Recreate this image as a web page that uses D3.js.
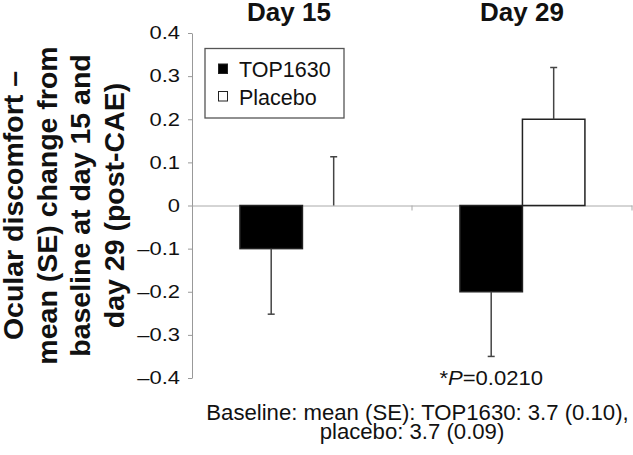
<!DOCTYPE html>
<html>
<head>
<meta charset="utf-8">
<script src="https://cdn.jsdelivr.net/npm/d3@7"></script>
<style>
  body { margin: 0; background: #fff; }
  svg { display: block; font-family: "Liberation Sans", Arial, sans-serif; }
</style>
</head>
<body>
<script>
// data
const days = ["Day 15", "Day 29"];
const series = ["TOP1630", "Placebo"];
const top1630Mean = [-0.10, -0.20];
const top1630SE = [0.152, 0.15];
const placeboMean = [0.0, 0.20];
const placeboSE = [0.113, 0.12];
const yTicks = [0.4, 0.3, 0.2, 0.1, 0, -0.1, -0.2, -0.3, -0.4];
const yTitle = ["Ocular discomfort \u2013", "mean (SE) change from", "baseline at day 15 and", "day 29 (post-CAE)"];
const pNote = { day: "Day 29", series: "TOP1630", text: "0.0210" };
const baselineNote = ["Baseline: mean (SE): TOP1630: 3.7 (0.10),", "placebo: 3.7 (0.09)"];

let margin, width, height, svg, x0, x1, y;

setupCanvasSize();
appendSvg("body");
setupScales();
appendAxes();
appendBars();
appendTitles();
appendLegend();

function setupCanvasSize() {
  margin = {top: 33, left: 192, bottom: 77, right: 1};
  width = 633 - margin.left - margin.right;
  height = 455 - margin.top - margin.bottom;
}

function appendSvg(el) {
  svg = d3.select(el).append("svg")
    .attr("width", 633)
    .attr("height", 455)
    .append("g")
    .attr("transform", `translate(${margin.left}, ${margin.top})`);
}

function setupScales() {
  x0 = d3.scaleBand().domain(days).range([0, width]);
  const bw = x0.bandwidth();
  x1 = d3.scaleBand().domain(series).range([bw * 0.218, bw * 0.786]);
  y = d3.scaleLinear().domain([-0.4, 0.4]).range([height, 0]);
}

function fmt(v) {
  if (v === 0) return "0";
  return (v < 0 ? "\u2013" : "") + Math.abs(v).toFixed(1);
}

function appendAxes() {
  const ya = svg.append("g")
    .call(d3.axisLeft(y).tickValues(yTicks).tickFormat(fmt).tickSizeInner(4).tickSizeOuter(0).tickPadding(8));
  ya.select(".domain").attr("stroke", "#999");
  ya.selectAll(".tick line").attr("stroke", "#999");
  ya.selectAll(".tick text")
    .attr("font-size", 18)
    .attr("fill", "#111")
    .attr("font-family", null)
    .attr("x", -12 / 1.22)
    .attr("transform", "scale(1.22,1)");

  // zero line with category boundary ticks
  const xa = svg.append("g")
    .attr("transform", `translate(0, ${y(0)})`)
    .call(d3.axisBottom(x0).tickValues([]).tickSizeOuter(0));
  xa.select(".domain").attr("stroke", "#aaa");
  xa.selectAll(".bound")
    .data(days)
    .enter()
    .append("line")
    .attr("class", "bound")
    .attr("x1", d => x0(d) + x0.bandwidth())
    .attr("x2", d => x0(d) + x0.bandwidth())
    .attr("y1", 0)
    .attr("y2", 5)
    .attr("stroke", "#aaa");
}

function appendBars() {
  const rows = [];
  days.forEach((d, i) => {
    rows.push({day: d, s: "TOP1630", v: top1630Mean[i], se: top1630SE[i]});
    rows.push({day: d, s: "Placebo", v: placeboMean[i], se: placeboSE[i]});
  });

  svg.selectAll("rect.bar")
    .data(rows)
    .enter()
    .append("rect")
    .attr("class", "bar")
    .attr("x", d => x0(d.day) + x1(d.s))
    .attr("y", d => y(Math.max(0, d.v)))
    .attr("width", x1.bandwidth())
    .attr("height", d => Math.abs(y(d.v) - y(0)))
    .style("fill", d => d.s === "TOP1630" ? "#000" : "#fff")
    .style("stroke", "#222")
    .style("stroke-width", 1.5);

  const cx = d => x0(d.day) + x1(d.s) + x1.bandwidth() / 2;
  const end = d => y(d.v >= 0 ? d.v + d.se : d.v - d.se);

  const eb = svg.selectAll("g.err")
    .data(rows)
    .enter()
    .append("g")
    .attr("class", "err")
    .attr("stroke", "#444")
    .attr("stroke-width", 1.5);
  eb.append("line")
    .attr("x1", cx).attr("x2", cx)
    .attr("y1", d => y(d.v)).attr("y2", end);
  eb.append("line")
    .attr("x1", d => cx(d) - 3.5).attr("x2", d => cx(d) + 3.5)
    .attr("y1", end).attr("y2", end);

  // p-value under the day 29 TOP1630 bar
  const pt = svg.append("g")
    .attr("transform", `translate(${x0(pNote.day) + x1(pNote.series) + x1.bandwidth() / 2}, ${385 - margin.top}) scale(1.05,1)`)
    .append("text")
    .attr("text-anchor", "middle")
    .attr("font-size", 21)
    .attr("fill", "#111");
  pt.append("tspan").text("*");
  pt.append("tspan").attr("font-style", "italic").text("P");
  pt.append("tspan").text("=" + pNote.text);
}

function appendTitles() {
  const nudge = [-13, 0];
  svg.selectAll("text.day")
    .data(days)
    .enter()
    .append("text")
    .attr("class", "day")
    .attr("x", (d, i) => x0(d) + x0.bandwidth() / 2 + nudge[i])
    .attr("y", 21 - margin.top)
    .attr("text-anchor", "middle")
    .attr("font-size", 26)
    .attr("font-weight", "bold")
    .attr("fill", "#111")
    .text(d => d);

  const yt = svg.append("g")
    .attr("transform", `translate(${-margin.left}, ${height / 2}) rotate(-90)`);
  yt.selectAll("text")
    .data(yTitle)
    .enter()
    .append("text")
    .attr("x", 0)
    .attr("y", (d, i) => 23 + i * 33.5)
    .attr("text-anchor", "middle")
    .attr("font-size", 28.5)
    .attr("font-weight", "bold")
    .attr("fill", "#111")
    .text(d => d);

  svg.selectAll("g.note")
    .data(baselineNote)
    .enter()
    .append("g")
    .attr("class", "note")
    .attr("transform", (d, i) => `translate(${width / 2 + (i === 0 ? 5.5 : 0)}, ${420 - margin.top + i * 18.5}) scale(1.03,1)`)
    .append("text")
    .attr("text-anchor", "middle")
    .attr("font-size", 21.5)
    .attr("fill", "#111")
    .text(d => d);
}

function appendLegend() {
  const lg = svg.append("g")
    .attr("class", "legend")
    .attr("transform", `translate(${205 - margin.left}, ${48.5 - margin.top})`);
  lg.append("rect")
    .attr("width", 139)
    .attr("height", 69.5)
    .style("fill", "#fff")
    .style("stroke", "#555")
    .style("stroke-width", 1.3);
  lg.selectAll("rect.key")
    .data(series)
    .enter()
    .append("rect")
    .attr("class", "key")
    .attr("x", 13.5)
    .attr("y", (d, i) => 15.5 + i * 27.5)
    .attr("width", 9)
    .attr("height", 9.5)
    .style("fill", d => d === "TOP1630" ? "#000" : "#fff")
    .style("stroke", "#222");
  lg.selectAll("text")
    .data(series)
    .enter()
    .append("text")
    .attr("x", 34)
    .attr("y", (d, i) => 28.5 + i * 28.3)
    .attr("font-size", 21.5)
    .attr("fill", "#111")
    .text(d => d);
}
</script>
</body>
</html>
